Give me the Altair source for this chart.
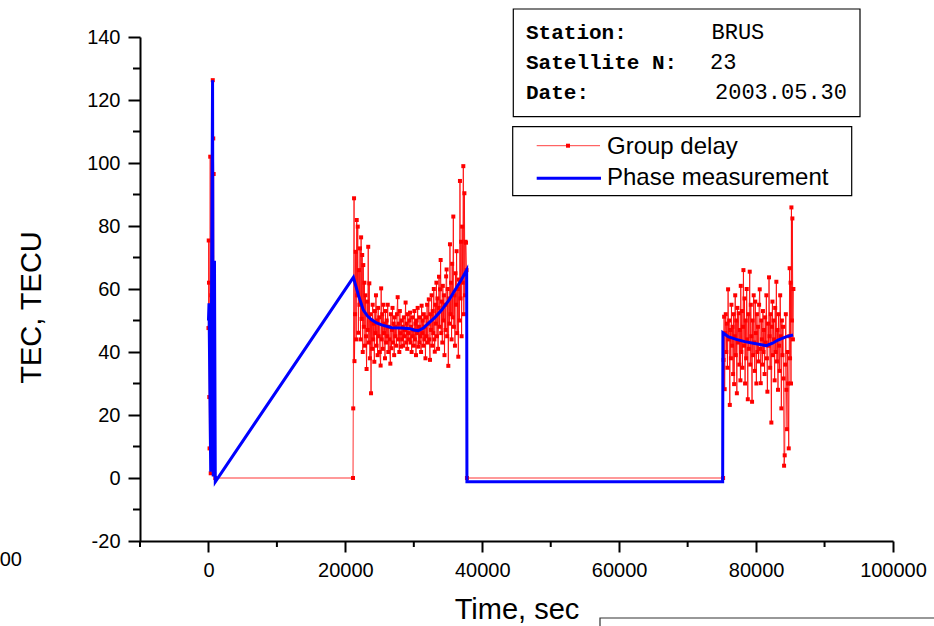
import altair as alt
import pandas as pd

# ---------------- data ----------------
# Group delay (time s, TEC)
gd_spike = [(0, 47.6), (40, 75.4), (80, 62.0), (120, 25.7), (160, 9.4), (200, 48.0),
            (260, 102.0), (330, 1.5), (420, 58.0), (630, 126.3), (700, 107.8),
            (760, 96.5), (820, 2.0), (1000, 0.0), (21120, 0.0)]
gd_pass1 = [
    (21150, 22.1), (21270, 88.8), (21330, 37.1), (21420, 52.0), (21500, 71.8), (21580, 44.0),
    (21660, 81.9), (21740, 58.0), (21810, 79.8), (21900, 46.1), (21980, 66.0), (22060, 55.0),
    (22140, 72.9), (22220, 44.0), (22300, 76.4), (22380, 50.5), (22460, 70.8), (22540, 40.0),
    (22620, 67.6), (22700, 48.0), (22780, 62.0), (22860, 42.0), (22940, 58.0), (23020, 45.0),
    (23100, 34.6), (23180, 56.0), (23260, 47.0), (23340, 73.4), (23420, 43.0), (23500, 61.8),
    (23580, 38.0), (23660, 52.0), (23750, 26.9), (23830, 50.0), (23910, 41.0), (23990, 55.0),
    (24070, 44.0), (24150, 49.0), (24230, 36.9), (24310, 53.0), (24390, 46.0), (24470, 58.0),
    (24550, 42.0), (24630, 50.0), (24710, 39.0), (24790, 54.0), (24870, 45.0), (24950, 51.0),
    (25030, 40.0), (25150, 35.7), (25230, 60.2), (25310, 44.0), (25390, 52.0), (25470, 41.0),
    (25550, 55.0), (25630, 46.0), (25710, 49.0), (25790, 38.0), (25870, 53.0), (25950, 43.0),
    (26030, 50.0), (26110, 45.0), (26190, 55.0), (26270, 40.0), (26350, 48.0), (26430, 44.0),
    (26570, 36.3), (26650, 52.0), (26730, 41.2), (26810, 47.0), (26890, 54.0), (26970, 43.0),
    (27050, 49.0), (27130, 39.0), (27210, 51.0), (27290, 45.0), (27370, 48.0), (27450, 42.0),
    (27530, 52.0), (27640, 57.4), (27720, 44.0), (27800, 49.0), (27880, 40.0), (27960, 53.0),
    (28040, 46.0), (28140, 41.7), (28220, 50.0), (28300, 44.0), (28380, 48.0), (28460, 42.0),
    (28540, 51.0), (28620, 45.0), (28700, 47.0), (28800, 55.7), (28880, 43.0), (28960, 49.0),
    (29040, 41.0), (29120, 52.0), (29200, 46.0), (29280, 44.0), (29360, 50.0), (29440, 52.5),
    (29520, 43.0), (29600, 48.0), (29680, 40.0), (29760, 51.0), (29840, 45.0), (29920, 47.0),
    (30000, 42.0), (30080, 53.0), (30160, 44.0), (30240, 49.0), (30320, 39.0), (30400, 50.0),
    (30480, 46.0), (30560, 54.0), (30660, 41.7), (30740, 48.0), (30820, 43.0), (30900, 51.0),
    (30980, 45.0), (31060, 40.0), (31140, 54.7), (31220, 46.0), (31300, 50.0), (31380, 42.0),
    (31460, 52.0), (31540, 44.0), (31620, 48.0), (31700, 38.0), (31780, 51.0), (31860, 45.0),
    (31940, 55.0), (32020, 43.0), (32120, 49.0), (32190, 56.7), (32270, 44.0), (32360, 37.5),
    (32440, 52.0), (32520, 47.0), (32600, 58.0), (32680, 42.0), (32760, 53.0), (32840, 46.0),
    (32920, 60.0), (33000, 44.0), (33060, 40.1), (33140, 55.0), (33220, 49.0), (33300, 62.0),
    (33380, 45.0), (33460, 57.0), (33540, 41.0), (33620, 54.0), (33680, 63.9), (33760, 48.0),
    (33840, 59.9), (33920, 69.2), (34000, 46.0), (34080, 56.0), (34160, 43.0), (34240, 61.0),
    (34320, 50.0), (34400, 58.0), (34480, 39.0), (34560, 55.0), (34640, 47.0), (34720, 64.0),
    (34790, 66.2), (34870, 45.0), (34950, 60.0), (35040, 35.6), (35120, 57.0), (35200, 49.0),
    (35280, 74.2), (35360, 52.0), (35440, 62.0), (35520, 44.0), (35600, 68.0), (35680, 51.0),
    (35770, 83.0), (35850, 48.0), (35930, 58.0), (36010, 42.0), (36090, 65.0), (36170, 55.0),
    (36250, 72.0), (36330, 46.0), (36420, 60.0), (36500, 38.5), (36580, 63.0), (36660, 50.0),
    (36740, 94.3), (36820, 57.0), (36900, 75.0), (36980, 45.0), (37060, 79.8), (37140, 62.0),
    (37230, 99.0), (37310, 52.0), (37390, 90.4), (37470, 58.0), (37550, 75.0), (37620, 74.7),
    (37700, 66.0), (37760, 0.0)]
gd_pass2 = [
    (75180, 0.0), (75250, 37.5), (75330, 51.2), (75410, 28.2), (75490, 46.0), (75570, 52.0),
    (75650, 40.0), (75730, 49.0), (75810, 35.0), (75910, 59.9), (75990, 44.0), (76070, 50.0),
    (76160, 23.2), (76240, 47.0), (76320, 38.0), (76400, 55.0), (76480, 42.0), (76560, 48.0),
    (76640, 33.0), (76720, 52.0), (76790, 29.8), (76870, 45.0), (76950, 58.0), (77030, 39.0),
    (77110, 50.0), (77190, 26.9), (77270, 54.0), (77350, 43.0), (77470, 52.3), (77550, 36.0),
    (77630, 47.0), (77710, 31.0), (77760, 61.0), (77840, 40.0), (77920, 53.0), (78000, 35.0),
    (78080, 48.0), (78150, 66.0), (78230, 42.0), (78310, 57.0), (78390, 30.0), (78470, 50.0),
    (78550, 38.0), (78630, 60.0), (78710, 44.0), (78790, 25.0), (78870, 52.0), (78950, 41.0),
    (79070, 65.5), (79150, 36.0), (79230, 55.0), (79310, 45.0), (79410, 24.2), (79490, 50.0),
    (79570, 39.0), (79650, 58.0), (79730, 43.0), (79810, 34.0), (79880, 56.0), (79960, 46.0),
    (80040, 30.0), (80120, 52.0), (80200, 40.0), (80280, 48.0), (80360, 37.0), (80440, 55.0),
    (80530, 59.9), (80610, 41.0), (80680, 30.1), (80760, 50.0), (80840, 44.0), (80920, 36.0),
    (81000, 53.0), (81080, 40.0), (81160, 47.0), (81240, 33.0), (81320, 51.0), (81400, 43.0),
    (81500, 58.0), (81580, 38.0), (81650, 27.4), (81750, 49.0), (81820, 42.0), (81890, 63.7),
    (81970, 45.0), (82050, 35.0), (82130, 52.0), (82230, 17.6), (82310, 48.0), (82390, 56.0),
    (82470, 39.0), (82550, 50.0), (82630, 44.0), (82710, 31.0), (82790, 54.0), (82870, 40.0),
    (82960, 62.3), (83040, 37.0), (83120, 47.0), (83200, 28.0), (83280, 52.0), (83360, 42.0),
    (83440, 34.0), (83520, 58.0), (83600, 45.0), (83690, 22.1), (83770, 50.0), (83850, 39.0),
    (83930, 48.0), (84010, 31.6), (84090, 3.9), (84180, 7.2), (84260, 36.0), (84340, 52.0),
    (84430, 28.0), (84520, 15.5), (84600, 40.0), (84680, 30.0), (84770, 9.4), (84850, 45.0),
    (84900, 66.6), (84960, 38.0), (85040, 62.0), (85100, 30.0), (85160, 85.9), (85230, 50.0),
    (85300, 82.4), (85380, 44.0), (85450, 60.0)]

# Phase measurement (time s, TEC)
phase = [(0, 50.0), (80, 55.5), (330, 2.0), (600, 126.3), (700, 0.5), (880, 69.0),
         (1000, -1.2), (21170, 63.7), (21900, 58.1), (22630, 53.3), (23240, 51.4),
         (23840, 50.2), (24560, 49.2), (25300, 48.6), (26760, 47.7), (28220, 47.6),
         (29440, 47.4), (30000, 47.0), (30660, 46.8), (31400, 47.6), (32120, 49.1),
         (33100, 51.0), (34070, 53.3), (35050, 56.2), (36020, 59.7), (36900, 62.8),
         (37720, 66.0), (37760, -1.2),
         (75120, -1.2), (75150, 46.1), (75910, 44.9), (77100, 44.0), (78350, 43.3),
         (80000, 42.6), (81500, 42.0), (82400, 42.8), (83210, 43.8), (84430, 44.9),
         (85400, 45.4)]

x_major = [0, 20000, 40000, 60000, 80000, 100000]
x_minor = [-10000, 10000, 30000, 50000, 70000, 90000]
y_major = [-20, 0, 20, 40, 60, 80, 100, 120, 140]
y_minor = [-10, 10, 30, 50, 70, 90, 110, 130]

station = "BRUS"
satellite = "23"
date = "2003.05.30"

# ---------------- tables ----------------
gd_all = gd_spike + gd_pass1 + gd_pass2
gd_df = pd.DataFrame({"t": [p[0] for p in gd_all], "v": [p[1] for p in gd_all]})
gd_df["i"] = range(len(gd_df))
ph_df = pd.DataFrame({"t": [p[0] for p in phase], "v": [p[1] for p in phase]})
ph_df["i"] = range(len(ph_df))

W, H = 753, 504
FONT = "Liberation Sans"
MONO = "Liberation Mono"

xscale = alt.Scale(domain=[-10000, 100000], nice=False, zero=False)
yscale = alt.Scale(domain=[-20, 140], nice=False, zero=False)

xaxis = alt.Axis(values=x_major, labelExpr="'' + datum.value", tickSize=11, tickWidth=2,
                 domainWidth=2, domainColor="black", tickColor="black", labelColor="black",
                 labelFont=FONT, labelFontSize=20, labelPadding=8, grid=False,
                 title="Time, sec", titleFont=FONT, titleFontSize=29,
                 titleFontWeight="normal", titleColor="black",
                 titleBaseline="alphabetic", titleX=W / 2, titleY=77, labelFlush=False)
yaxis = alt.Axis(values=y_major, labelExpr="'' + datum.value", tickSize=12, tickWidth=2,
                 domainWidth=2, domainColor="black", tickColor="black", labelColor="black",
                 labelFont=FONT, labelFontSize=20, labelPadding=8, grid=False,
                 title="TEC, TECU", titleFont=FONT, titleFontSize=29,
                 titleFontWeight="normal", titleColor="black", titleAngle=270,
                 titleBaseline="alphabetic", titleAlign="center",
                 titleX=-100, titleY=270, labelFlush=False)

X = alt.X("t:Q", scale=xscale, axis=xaxis)
Y = alt.Y("v:Q", scale=yscale, axis=yaxis)

gd_line = alt.Chart(gd_df).mark_line(color="#ff0000", strokeWidth=1, opacity=0.8).encode(
    x=X, y=Y, order="i:Q")
gd_pts = alt.Chart(gd_df).mark_square(color="#ff0000", size=16, opacity=1).encode(x=X, y=Y)
ph_line = alt.Chart(ph_df).mark_line(color="#0000ff", strokeWidth=3).encode(
    x=X, y=Y, order="i:Q")

xminor = alt.Chart(pd.DataFrame({"t": x_minor})).mark_rule(color="black", strokeWidth=2).encode(
    x=X, y=alt.value(H), y2=alt.value(H + 6))
yminor = alt.Chart(pd.DataFrame({"v": y_minor})).mark_rule(color="black", strokeWidth=2).encode(
    y=Y, x=alt.value(-7), x2=alt.value(0))


def box(x1, y1, x2, y2, color="black", width=1.2):
    return alt.Chart(pd.DataFrame({"a": [0]})).mark_rect(
        fill=None, stroke=color, strokeWidth=width).encode(
        x=alt.value(x1), x2=alt.value(x2), y=alt.value(y1), y2=alt.value(y2))


def label(txt, x, y, size, font=FONT, weight="normal", align="left"):
    return alt.Chart(pd.DataFrame({"s": [txt]})).mark_text(
        font=font, fontSize=size, fontWeight=weight, align=align,
        baseline="alphabetic", color="black").encode(
        text="s:N", x=alt.value(x), y=alt.value(y))


def seg(x1, x2, y, color, width):
    return alt.Chart(pd.DataFrame({"a": [0]})).mark_rule(color=color, strokeWidth=width).encode(
        x=alt.value(x1), x2=alt.value(x2), y=alt.value(y))


info = [
    box(373.3, -28, 720, 79.7),
    label("Station:", 386, 1.5, 21, MONO, "bold"),
    label("Satellite N:", 386, 31.5, 21, MONO, "bold"),
    label("Date:", 386, 62, 21, MONO, "bold"),
    label(station, 571.5, 1.5, 22, MONO),
    label(satellite, 570, 31.5, 22, MONO),
    label(date, 575, 62, 22, MONO),
]
legend = [
    box(372.7, 89.7, 711.7, 158.7),
    seg(396.7, 460, 108.7, "#ff4040", 1),
    alt.Chart(pd.DataFrame({"a": [0]})).mark_square(color="#ff0000", size=16, opacity=1).encode(
        x=alt.value(428), y=alt.value(108.7)),
    seg(396.7, 461, 141.3, "#0000ff", 3),
    label("Group delay", 467, 117, 24),
    label("Phase measurement", 467, 148, 24),
]
extras = [
    label("00", -118, 529, 20, FONT, "normal", "right"),
    box(460, 581, 830, 640, "#333333", 1.2),
]

chart = alt.layer(gd_line, gd_pts, ph_line, xminor, yminor, *info, *legend, *extras).properties(
    width=W, height=H,
    background="white",
    autosize=alt.AutoSizeParams(type="none"),
    padding={"left": 140, "top": 37, "right": 41, "bottom": 85},
).configure_view(strokeWidth=0, stroke="transparent")

chart.save("out.html", embed_options={"renderer": "svg", "actions": False})
